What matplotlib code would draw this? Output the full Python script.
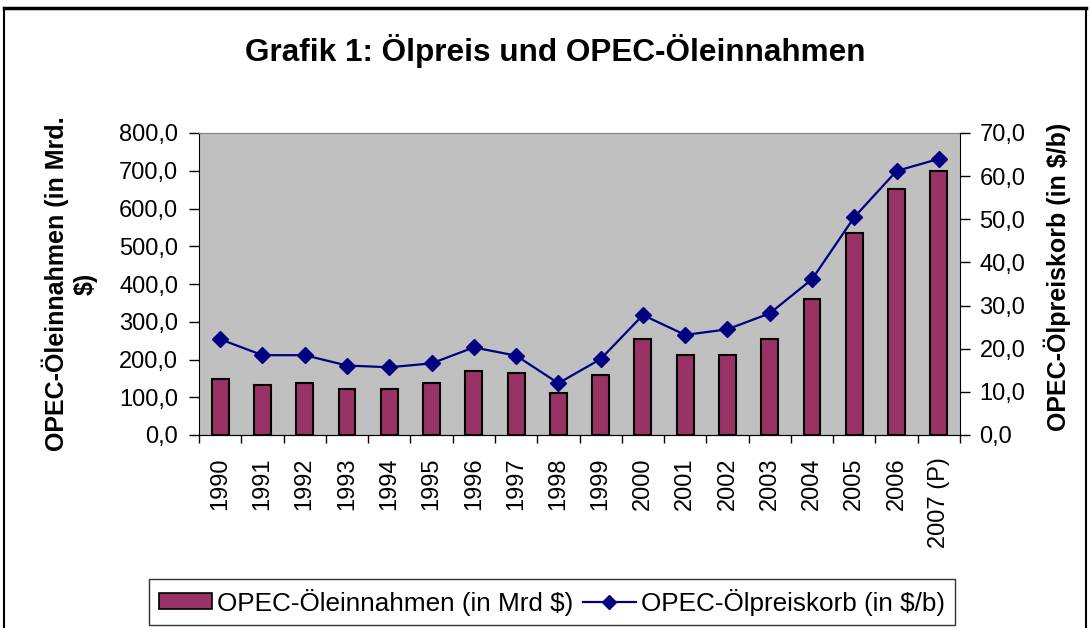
import matplotlib
matplotlib.use("Agg")
import matplotlib.pyplot as plt
from matplotlib.lines import Line2D
import numpy as np

plt.rcParams['font.family'] = ['Liberation Sans', 'DejaVu Sans']

years = ["1990", "1991", "1992", "1993", "1994", "1995", "1996", "1997", "1998", "1999",
         "2000", "2001", "2002", "2003", "2004", "2005", "2006", "2007 (P)"]
revenue = [148, 132, 137, 121, 121, 137, 169, 163, 110, 158,
           254, 211, 211, 254, 360, 535, 652, 699]
price = [22.2, 18.5, 18.5, 16.1, 15.7, 16.6, 20.3, 18.4, 12.0, 17.6,
         27.8, 23.2, 24.5, 28.2, 36.1, 50.5, 61.2, 64.0]
left_ticks = [0, 100, 200, 300, 400, 500, 600, 700, 800]
right_ticks = [0, 10, 20, 30, 40, 50, 60, 70]

W, H = 1090, 628
fig = plt.figure(figsize=(W / 100, H / 100), dpi=100)
fig.patch.set_facecolor('white')

ax = fig.add_axes([199 / W, 1 - 435 / H, 761 / W, 302 / H])
ax.set_facecolor('#C0C0C0')
x = np.arange(len(years))
ax.bar(x, revenue, width=0.4, color='#993366', edgecolor='black', linewidth=1.5, zorder=2)
ax.set_xlim(-0.5, len(years) - 0.5)
ax.set_ylim(0, 800)
ax.set_yticks(left_ticks)
ax.set_yticklabels([f"{v:.1f}".replace('.', ',') for v in left_ticks], fontsize=17)
ax.set_xticks(x)
ax.set_xticklabels(years, rotation=90, fontsize=17, va='top')
ax.tick_params(axis='x', which='major', length=0, pad=16)
ax.set_xticks(np.arange(-0.5, len(years), 1), minor=True)
ax.tick_params(axis='x', which='minor', length=6, width=1, direction='out')
ax.tick_params(axis='y', length=7, width=1, direction='out', pad=8)
ax.spines['top'].set_color('#808080')
ax.spines['right'].set_visible(False)

ax2 = ax.twinx()
ax2.plot(x, price, color='#000080', linewidth=1.6, marker='D', markersize=8,
         markerfacecolor='#000080', markeredgecolor='#000080', zorder=3)
ax2.set_ylim(0, 70)
ax2.set_yticks(right_ticks)
ax2.set_yticklabels([f"{v:.1f}".replace('.', ',') for v in right_ticks], fontsize=17)
ax2.tick_params(axis='y', length=7, width=1, direction='out', pad=7)
ax2.spines['top'].set_visible(False)
ax2.spines['left'].set_visible(False)

fig.text(70 / W, 1 - 284 / H, "OPEC-Öleinnahmen (in Mrd.\n$)", rotation=90,
         ha='center', va='center', fontsize=18, fontweight='bold', linespacing=1.25,
         multialignment='center')
fig.text(1057 / W, 1 - 277 / H, "OPEC-Ölpreiskorb (in $/b)", rotation=90,
         ha='center', va='center', fontsize=18, fontweight='bold')

fig.text(555 / W, 1 - 51 / H, "Grafik 1: Ölpreis und OPEC-Öleinnahmen", ha='center', va='center',
         fontsize=22.7, fontweight='bold')

handles = [
    plt.Rectangle((0, 0), 1, 1, facecolor='#993366', edgecolor='black', linewidth=1.2),
    Line2D([0], [0], color='#000080', linewidth=1.6, marker='D', markersize=7,
           markerfacecolor='#000080'),
]
leg = fig.legend(handles, ["OPEC-Öleinnahmen (in Mrd $)", "OPEC-Ölpreiskorb (in $/b)"],
                 loc='center', bbox_to_anchor=(552 / W, 1 - 602 / H), ncol=2, fontsize=18.8,
                 frameon=True, fancybox=False, edgecolor='black', handlelength=2.05,
                 handleheight=0.55, columnspacing=0.35, handletextpad=0.2, borderpad=0.35,
                 borderaxespad=0)
leg.get_frame().set_linewidth(1)

# outer chart frame
fig.add_artist(Line2D([4 / W, 1086 / W], [1 - 8 / H, 1 - 8 / H], color='black', linewidth=2.5,
                      transform=fig.transFigure))
fig.add_artist(Line2D([4 / W, 4 / W], [0, 1 - 8 / H], color='black', linewidth=1.5,
                      transform=fig.transFigure))
fig.add_artist(Line2D([1086 / W, 1086 / W], [0, 1 - 8 / H], color='black', linewidth=1.5,
                      transform=fig.transFigure))

fig.savefig("out.png", dpi=100)
